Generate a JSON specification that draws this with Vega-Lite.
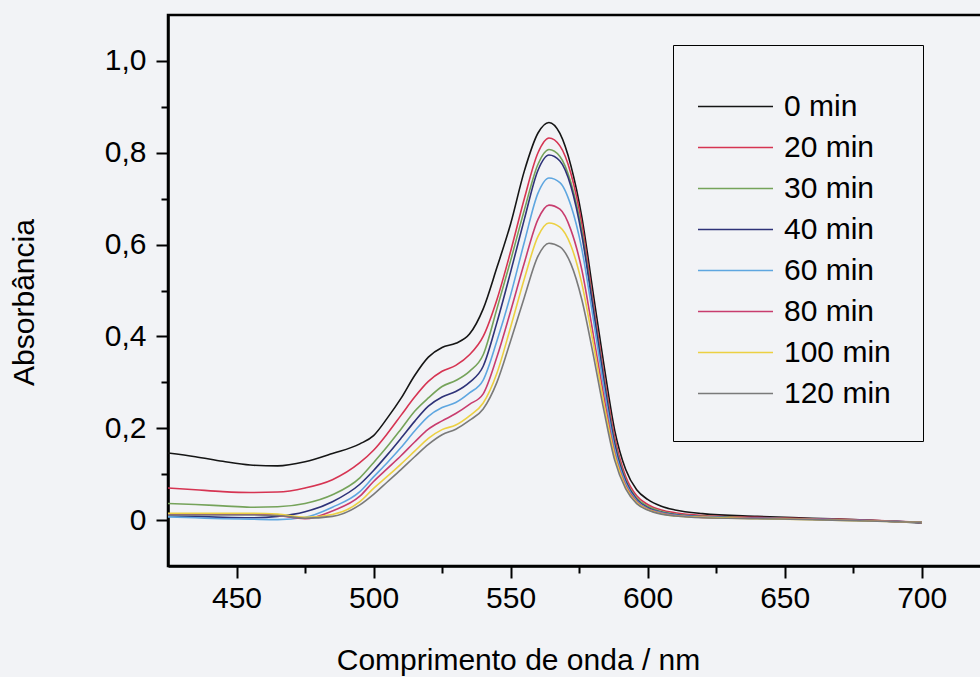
{
"$schema": "https://vega.github.io/schema/vega-lite/v6.json",
"width": 814, "height": 551,
"autosize": {"type": "none"},
"padding": {"left": 168, "top": 15, "right": 0, "bottom": 111},
"background": "#f2f3f6",
"config": {"view": {"stroke": "black", "strokeWidth": 2.5}, "font": "Liberation Sans"},
"data": {"values": [
{"t":"0 min","nm":425,"A":0.146},{"t":"0 min","nm":435,"A":0.138},{"t":"0 min","nm":445,"A":0.128},{"t":"0 min","nm":455,"A":0.120},{"t":"0 min","nm":465,"A":0.118},{"t":"0 min","nm":475,"A":0.127},{"t":"0 min","nm":485,"A":0.145},{"t":"0 min","nm":495,"A":0.166},{"t":"0 min","nm":500,"A":0.184},{"t":"0 min","nm":505,"A":0.222},{"t":"0 min","nm":510,"A":0.265},{"t":"0 min","nm":515,"A":0.315},{"t":"0 min","nm":520,"A":0.355},{"t":"0 min","nm":525,"A":0.376},{"t":"0 min","nm":530,"A":0.385},{"t":"0 min","nm":535,"A":0.405},{"t":"0 min","nm":540,"A":0.46},{"t":"0 min","nm":545,"A":0.55},{"t":"0 min","nm":550,"A":0.645},{"t":"0 min","nm":555,"A":0.76},{"t":"0 min","nm":560,"A":0.843},{"t":"0 min","nm":564,"A":0.866},{"t":"0 min","nm":568,"A":0.842},{"t":"0 min","nm":572,"A":0.772},{"t":"0 min","nm":576,"A":0.66},{"t":"0 min","nm":580,"A":0.50},{"t":"0 min","nm":584,"A":0.34},{"t":"0 min","nm":588,"A":0.195},{"t":"0 min","nm":592,"A":0.11},{"t":"0 min","nm":596,"A":0.066},{"t":"0 min","nm":600,"A":0.045},{"t":"0 min","nm":605,"A":0.030},{"t":"0 min","nm":610,"A":0.022},{"t":"0 min","nm":620,"A":0.014},{"t":"0 min","nm":640,"A":0.008},{"t":"0 min","nm":660,"A":0.004},{"t":"0 min","nm":680,"A":0.000},{"t":"0 min","nm":700,"A":-0.006},
{"t":"20 min","nm":425,"A":0.070},{"t":"20 min","nm":435,"A":0.066},{"t":"20 min","nm":445,"A":0.062},{"t":"20 min","nm":455,"A":0.060},{"t":"20 min","nm":465,"A":0.061},{"t":"20 min","nm":475,"A":0.070},{"t":"20 min","nm":485,"A":0.088},{"t":"20 min","nm":495,"A":0.125},{"t":"20 min","nm":500,"A":0.152},{"t":"20 min","nm":505,"A":0.188},{"t":"20 min","nm":510,"A":0.228},{"t":"20 min","nm":515,"A":0.268},{"t":"20 min","nm":520,"A":0.302},{"t":"20 min","nm":525,"A":0.324},{"t":"20 min","nm":530,"A":0.337},{"t":"20 min","nm":535,"A":0.360},{"t":"20 min","nm":540,"A":0.40},{"t":"20 min","nm":545,"A":0.48},{"t":"20 min","nm":550,"A":0.585},{"t":"20 min","nm":555,"A":0.70},{"t":"20 min","nm":560,"A":0.800},{"t":"20 min","nm":564,"A":0.832},{"t":"20 min","nm":568,"A":0.815},{"t":"20 min","nm":572,"A":0.755},{"t":"20 min","nm":576,"A":0.645},{"t":"20 min","nm":580,"A":0.48},{"t":"20 min","nm":584,"A":0.32},{"t":"20 min","nm":588,"A":0.18},{"t":"20 min","nm":592,"A":0.095},{"t":"20 min","nm":596,"A":0.053},{"t":"20 min","nm":600,"A":0.034},{"t":"20 min","nm":605,"A":0.022},{"t":"20 min","nm":610,"A":0.016},{"t":"20 min","nm":620,"A":0.010},{"t":"20 min","nm":640,"A":0.006},{"t":"20 min","nm":660,"A":0.003},{"t":"20 min","nm":680,"A":0.000},{"t":"20 min","nm":700,"A":-0.005},
{"t":"30 min","nm":425,"A":0.036},{"t":"30 min","nm":435,"A":0.034},{"t":"30 min","nm":445,"A":0.031},{"t":"30 min","nm":455,"A":0.028},{"t":"30 min","nm":465,"A":0.029},{"t":"30 min","nm":475,"A":0.036},{"t":"30 min","nm":485,"A":0.055},{"t":"30 min","nm":495,"A":0.092},{"t":"30 min","nm":500,"A":0.125},{"t":"30 min","nm":505,"A":0.160},{"t":"30 min","nm":510,"A":0.198},{"t":"30 min","nm":515,"A":0.237},{"t":"30 min","nm":520,"A":0.266},{"t":"30 min","nm":525,"A":0.291},{"t":"30 min","nm":530,"A":0.304},{"t":"30 min","nm":535,"A":0.324},{"t":"30 min","nm":540,"A":0.36},{"t":"30 min","nm":545,"A":0.46},{"t":"30 min","nm":550,"A":0.565},{"t":"30 min","nm":555,"A":0.675},{"t":"30 min","nm":560,"A":0.775},{"t":"30 min","nm":564,"A":0.807},{"t":"30 min","nm":568,"A":0.792},{"t":"30 min","nm":572,"A":0.735},{"t":"30 min","nm":576,"A":0.63},{"t":"30 min","nm":580,"A":0.47},{"t":"30 min","nm":584,"A":0.31},{"t":"30 min","nm":588,"A":0.17},{"t":"30 min","nm":592,"A":0.088},{"t":"30 min","nm":596,"A":0.048},{"t":"30 min","nm":600,"A":0.030},{"t":"30 min","nm":605,"A":0.019},{"t":"30 min","nm":610,"A":0.013},{"t":"30 min","nm":620,"A":0.008},{"t":"30 min","nm":640,"A":0.005},{"t":"30 min","nm":660,"A":0.002},{"t":"30 min","nm":680,"A":-0.001},{"t":"30 min","nm":700,"A":-0.005},
{"t":"40 min","nm":425,"A":0.009},{"t":"40 min","nm":435,"A":0.008},{"t":"40 min","nm":445,"A":0.006},{"t":"40 min","nm":455,"A":0.005},{"t":"40 min","nm":465,"A":0.008},{"t":"40 min","nm":475,"A":0.018},{"t":"40 min","nm":485,"A":0.040},{"t":"40 min","nm":495,"A":0.078},{"t":"40 min","nm":500,"A":0.108},{"t":"40 min","nm":505,"A":0.142},{"t":"40 min","nm":510,"A":0.178},{"t":"40 min","nm":515,"A":0.215},{"t":"40 min","nm":520,"A":0.248},{"t":"40 min","nm":525,"A":0.268},{"t":"40 min","nm":530,"A":0.280},{"t":"40 min","nm":535,"A":0.300},{"t":"40 min","nm":540,"A":0.335},{"t":"40 min","nm":545,"A":0.43},{"t":"40 min","nm":550,"A":0.54},{"t":"40 min","nm":555,"A":0.655},{"t":"40 min","nm":560,"A":0.762},{"t":"40 min","nm":564,"A":0.795},{"t":"40 min","nm":568,"A":0.782},{"t":"40 min","nm":572,"A":0.727},{"t":"40 min","nm":576,"A":0.62},{"t":"40 min","nm":580,"A":0.465},{"t":"40 min","nm":584,"A":0.305},{"t":"40 min","nm":588,"A":0.165},{"t":"40 min","nm":592,"A":0.085},{"t":"40 min","nm":596,"A":0.045},{"t":"40 min","nm":600,"A":0.027},{"t":"40 min","nm":605,"A":0.017},{"t":"40 min","nm":610,"A":0.012},{"t":"40 min","nm":620,"A":0.007},{"t":"40 min","nm":640,"A":0.004},{"t":"40 min","nm":660,"A":0.002},{"t":"40 min","nm":680,"A":-0.001},{"t":"40 min","nm":700,"A":-0.005},
{"t":"60 min","nm":425,"A":0.007},{"t":"60 min","nm":435,"A":0.005},{"t":"60 min","nm":445,"A":0.003},{"t":"60 min","nm":455,"A":0.002},{"t":"60 min","nm":465,"A":0.001},{"t":"60 min","nm":475,"A":0.006},{"t":"60 min","nm":485,"A":0.028},{"t":"60 min","nm":495,"A":0.062},{"t":"60 min","nm":500,"A":0.094},{"t":"60 min","nm":505,"A":0.125},{"t":"60 min","nm":510,"A":0.158},{"t":"60 min","nm":515,"A":0.194},{"t":"60 min","nm":520,"A":0.226},{"t":"60 min","nm":525,"A":0.245},{"t":"60 min","nm":530,"A":0.256},{"t":"60 min","nm":535,"A":0.277},{"t":"60 min","nm":540,"A":0.305},{"t":"60 min","nm":545,"A":0.39},{"t":"60 min","nm":550,"A":0.49},{"t":"60 min","nm":555,"A":0.605},{"t":"60 min","nm":560,"A":0.712},{"t":"60 min","nm":564,"A":0.745},{"t":"60 min","nm":568,"A":0.735},{"t":"60 min","nm":572,"A":0.685},{"t":"60 min","nm":576,"A":0.59},{"t":"60 min","nm":580,"A":0.445},{"t":"60 min","nm":584,"A":0.29},{"t":"60 min","nm":588,"A":0.155},{"t":"60 min","nm":592,"A":0.080},{"t":"60 min","nm":596,"A":0.042},{"t":"60 min","nm":600,"A":0.025},{"t":"60 min","nm":605,"A":0.016},{"t":"60 min","nm":610,"A":0.011},{"t":"60 min","nm":620,"A":0.007},{"t":"60 min","nm":640,"A":0.004},{"t":"60 min","nm":660,"A":0.002},{"t":"60 min","nm":680,"A":-0.001},{"t":"60 min","nm":700,"A":-0.005},
{"t":"80 min","nm":425,"A":0.013},{"t":"80 min","nm":435,"A":0.013},{"t":"80 min","nm":445,"A":0.013},{"t":"80 min","nm":455,"A":0.013},{"t":"80 min","nm":465,"A":0.010},{"t":"80 min","nm":475,"A":0.003},{"t":"80 min","nm":485,"A":0.020},{"t":"80 min","nm":495,"A":0.052},{"t":"80 min","nm":500,"A":0.084},{"t":"80 min","nm":505,"A":0.112},{"t":"80 min","nm":510,"A":0.140},{"t":"80 min","nm":515,"A":0.170},{"t":"80 min","nm":520,"A":0.198},{"t":"80 min","nm":525,"A":0.216},{"t":"80 min","nm":530,"A":0.232},{"t":"80 min","nm":535,"A":0.252},{"t":"80 min","nm":540,"A":0.275},{"t":"80 min","nm":545,"A":0.355},{"t":"80 min","nm":550,"A":0.455},{"t":"80 min","nm":555,"A":0.56},{"t":"80 min","nm":560,"A":0.655},{"t":"80 min","nm":564,"A":0.686},{"t":"80 min","nm":568,"A":0.677},{"t":"80 min","nm":572,"A":0.632},{"t":"80 min","nm":576,"A":0.545},{"t":"80 min","nm":580,"A":0.41},{"t":"80 min","nm":584,"A":0.27},{"t":"80 min","nm":588,"A":0.145},{"t":"80 min","nm":592,"A":0.075},{"t":"80 min","nm":596,"A":0.040},{"t":"80 min","nm":600,"A":0.024},{"t":"80 min","nm":605,"A":0.015},{"t":"80 min","nm":610,"A":0.010},{"t":"80 min","nm":620,"A":0.006},{"t":"80 min","nm":640,"A":0.004},{"t":"80 min","nm":660,"A":0.002},{"t":"80 min","nm":680,"A":-0.001},{"t":"80 min","nm":700,"A":-0.005},
{"t":"100 min","nm":425,"A":0.015},{"t":"100 min","nm":435,"A":0.015},{"t":"100 min","nm":445,"A":0.015},{"t":"100 min","nm":455,"A":0.015},{"t":"100 min","nm":465,"A":0.013},{"t":"100 min","nm":475,"A":0.006},{"t":"100 min","nm":485,"A":0.012},{"t":"100 min","nm":495,"A":0.040},{"t":"100 min","nm":500,"A":0.069},{"t":"100 min","nm":505,"A":0.095},{"t":"100 min","nm":510,"A":0.122},{"t":"100 min","nm":515,"A":0.150},{"t":"100 min","nm":520,"A":0.178},{"t":"100 min","nm":525,"A":0.197},{"t":"100 min","nm":530,"A":0.207},{"t":"100 min","nm":535,"A":0.227},{"t":"100 min","nm":540,"A":0.255},{"t":"100 min","nm":545,"A":0.32},{"t":"100 min","nm":550,"A":0.42},{"t":"100 min","nm":555,"A":0.525},{"t":"100 min","nm":560,"A":0.618},{"t":"100 min","nm":564,"A":0.647},{"t":"100 min","nm":568,"A":0.638},{"t":"100 min","nm":572,"A":0.598},{"t":"100 min","nm":576,"A":0.515},{"t":"100 min","nm":580,"A":0.39},{"t":"100 min","nm":584,"A":0.255},{"t":"100 min","nm":588,"A":0.14},{"t":"100 min","nm":592,"A":0.072},{"t":"100 min","nm":596,"A":0.038},{"t":"100 min","nm":600,"A":0.023},{"t":"100 min","nm":605,"A":0.014},{"t":"100 min","nm":610,"A":0.009},{"t":"100 min","nm":620,"A":0.006},{"t":"100 min","nm":640,"A":0.003},{"t":"100 min","nm":660,"A":0.001},{"t":"100 min","nm":680,"A":-0.002},{"t":"100 min","nm":700,"A":-0.005},
{"t":"120 min","nm":425,"A":0.011},{"t":"120 min","nm":435,"A":0.011},{"t":"120 min","nm":445,"A":0.011},{"t":"120 min","nm":455,"A":0.011},{"t":"120 min","nm":465,"A":0.010},{"t":"120 min","nm":475,"A":0.004},{"t":"120 min","nm":485,"A":0.008},{"t":"120 min","nm":495,"A":0.033},{"t":"120 min","nm":500,"A":0.056},{"t":"120 min","nm":505,"A":0.083},{"t":"120 min","nm":510,"A":0.110},{"t":"120 min","nm":515,"A":0.138},{"t":"120 min","nm":520,"A":0.165},{"t":"120 min","nm":525,"A":0.186},{"t":"120 min","nm":530,"A":0.198},{"t":"120 min","nm":535,"A":0.217},{"t":"120 min","nm":540,"A":0.242},{"t":"120 min","nm":545,"A":0.30},{"t":"120 min","nm":550,"A":0.39},{"t":"120 min","nm":555,"A":0.485},{"t":"120 min","nm":560,"A":0.575},{"t":"120 min","nm":564,"A":0.603},{"t":"120 min","nm":568,"A":0.595},{"t":"120 min","nm":572,"A":0.558},{"t":"120 min","nm":576,"A":0.48},{"t":"120 min","nm":580,"A":0.365},{"t":"120 min","nm":584,"A":0.24},{"t":"120 min","nm":588,"A":0.13},{"t":"120 min","nm":592,"A":0.068},{"t":"120 min","nm":596,"A":0.036},{"t":"120 min","nm":600,"A":0.022},{"t":"120 min","nm":605,"A":0.013},{"t":"120 min","nm":610,"A":0.009},{"t":"120 min","nm":620,"A":0.005},{"t":"120 min","nm":640,"A":0.003},{"t":"120 min","nm":660,"A":0.001},{"t":"120 min","nm":680,"A":-0.002},{"t":"120 min","nm":700,"A":-0.005}
]},
"mark": {"type": "line", "strokeWidth": 1.6, "interpolate": "monotone", "clip": true},
"encoding": {
  "x": {"field": "nm", "type": "quantitative",
    "scale": {"domain": [425, 722], "nice": false, "zero": false},
    "axis": {"title": "Comprimento de onda / nm",
      "values": [450,475,500,525,550,575,600,625,650,675,700],
      "labelExpr": "datum.value % 50 == 0 ? format(datum.value, 'd') : ''",
      "tickSize": {"condition": {"test": "datum.value % 50 == 0", "value": 12}, "value": 7},
      "tickWidth": 2, "tickColor": "black", "domainColor": "black", "domainWidth": 2.5,
      "labelFontSize": 30, "labelColor": "black", "labelPadding": 5, "labelFlush": false, "labelOverlap": false,
      "grid": false,
      "titleFontSize": 30, "titleFontWeight": "normal", "titleColor": "black",
      "titleX": 350, "titleY": 103, "titleAlign": "center", "titleBaseline": "alphabetic", "titleAnchor": null}},
  "y": {"field": "A", "type": "quantitative",
    "scale": {"domain": [-0.1, 1.1], "nice": false, "zero": false},
    "axis": {"title": "Absorbância",
      "values": [0, 0.1, 0.2, 0.3, 0.4, 0.5, 0.6, 0.7, 0.8, 0.9, 1.0],
      "labelExpr": "datum.value == 0 ? '0' : (round(datum.value*10) % 2 == 0 ? replace(format(datum.value, '.1f'), '.', ',') : '')",
      "tickSize": {"condition": {"test": "round(datum.value*10) % 2 == 0", "value": 12}, "value": 7},
      "tickWidth": 2, "tickColor": "black", "domainColor": "black", "domainWidth": 2.5,
      "labelFontSize": 30, "labelColor": "black", "labelPadding": 10, "labelFlush": false, "labelOverlap": false,
      "grid": false,
      "titleFontSize": 30, "titleFontWeight": "normal", "titleColor": "black",
      "titleX": -135, "titleY": 287, "titleAngle": 270, "titleAlign": "center", "titleBaseline": "alphabetic", "titleAnchor": null}},
  "color": {"field": "t", "type": "nominal",
    "sort": ["0 min","20 min","30 min","40 min","60 min","80 min","100 min","120 min"],
    "scale": {"domain": ["0 min","20 min","30 min","40 min","60 min","80 min","100 min","120 min"],
              "range": ["#151515","#d63452","#75a35a","#2e3278","#5ea6e0","#c83c6e","#ecd042","#7a7a7a"]},
    "legend": {"orient": "none", "legendX": 505, "legendY": 30, "title": " ", "titleFontSize": 8, "titlePadding": 1,
      "strokeColor": "black", "padding": 32,
      "symbolType": "M-1.923,0H1.923", "symbolSize": 1521, "symbolStrokeWidth": 1.6, "symbolOffset": 10,
      "labelFontSize": 30, "labelColor": "black", "labelOffset": 28, "rowPadding": 5}}
}
}
